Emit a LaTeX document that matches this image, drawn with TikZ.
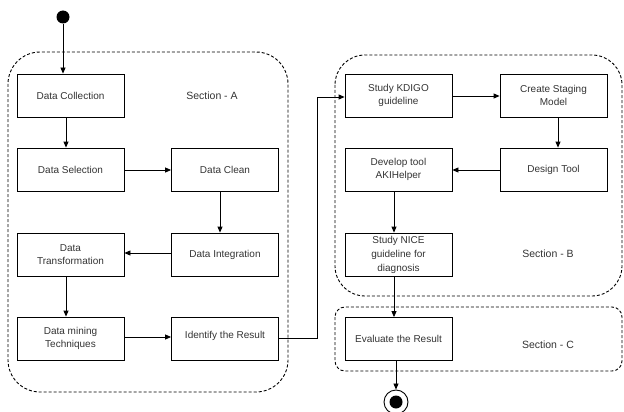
\documentclass[tikz,border=0pt]{standalone}
\usepackage{fontspec}
\setmainfont{Liberation Sans}
\usetikzlibrary{arrows.meta}
\begin{document}
\begin{tikzpicture}[x=1pt,y=-1pt,
  box/.style={draw, line width=0.8pt, minimum width=107pt, minimum height=43pt, align=center, inner sep=0pt, font=\fontsize{10}{12.5}\selectfont, text=black!80},
  grp/.style={draw, line width=0.9pt, dash pattern=on 3pt off 2pt},
  lbl/.style={font=\fontsize{10.5}{12}\selectfont, text=black!80},
  arr/.style={-{Triangle[length=6pt,width=5pt]}, line width=0.8pt}]
\useasboundingbox (0,0) rectangle (624,412);
% containers
\draw[grp, rounded corners=32pt] (8,52) rectangle (288,392);
\draw[grp, rounded corners=30pt] (335,55) rectangle (622,296);
\draw[grp, rounded corners=10pt] (335,307) rectangle (622,371);
% start
\node[circle, fill=black, inner sep=0pt, minimum size=13pt] (start) at (63,17) {};
% section A
\node[box] (dc) at (70.5,95.5) {Data Collection};
\node[box] (ds) at (70.5,169.5) {Data Selection};
\node[box] (dcl) at (225,169.5) {Data Clean};
\node[box] (di) at (225,254.5) {Data Integration};
\node[box] (dt) at (70.5,254.5) {Data\\Transformation};
\node[box] (dm) at (70.5,338.5) {Data mining\\Techniques};
\node[box] (ir) at (225,338.5) {\raisebox{7pt}{Identify the Result}};
\node[lbl] (la) at (212,96) {Section - A};
% section B
\node[box] (sk) at (398.5,95.5) {Study KDIGO\\guideline};
\node[box] (cs) at (553.5,95.5) {Create Staging\\Model};
\node[box] (dtl) at (553.5,169.5) {Design Tool};
\node[box] (dev) at (398.5,169.5) {Develop tool\\AKIHelper};
\node[draw, line width=0.8pt, minimum width=107pt, minimum height=43pt] (sn) at (398.5,254.5) {};
\node[align=center, inner sep=0pt, font=\fontsize{10}{14}\selectfont, text=black!80] (snt) at (398.5,255) {Study NICE\\guideline for\\diagnosis};
\node[lbl] (lb) at (548,254) {Section - B};
% section C
\node[box] (ev) at (398.5,339) {Evaluate the Result};
\node[lbl] (lc) at (548,345) {Section - C};
% end
\node[circle, draw, line width=0.9pt, inner sep=0pt, minimum size=24pt] (end) at (396,402) {};
\node[circle, fill=black, inner sep=0pt, minimum size=13pt] (endin) at (end.center) {};
% arrows
\draw[arr] (start) -- (start |- dc.north);
\draw[arr] (dc.south -| 66,0) -- (ds.north -| 66,0);
\draw[arr] (ds.east |- 0,170) -- (dcl.west |- 0,170);
\draw[arr] (dcl.south -| 220,0) -- (di.north -| 220,0);
\draw[arr] (di.west |- 0,253) -- (dt.east |- 0,253);
\draw[arr] (dt.south -| 66,0) -- (dm.north -| 66,0);
\draw[arr] (dm.east |- 0,337) -- (ir.west |- 0,337);
\draw[arr] (ir.east |- 0,338) -- (317,338) |- (sk.west |- 0,97);
\draw[arr] (sk.east |- 0,96) -- (cs.west |- 0,96);
\draw[arr] (cs.south -| 558,0) -- (dtl.north -| 558,0);
\draw[arr] (dtl.west |- 0,170) -- (dev.east |- 0,170);
\draw[arr] (dev.south -| 394,0) -- (sn.north -| 394,0);
\draw[arr] (sn.south -| 394,0) -- (ev.north -| 394,0);
\draw[arr] (ev.south -| 396,0) -- (end);
\end{tikzpicture}
\end{document}
